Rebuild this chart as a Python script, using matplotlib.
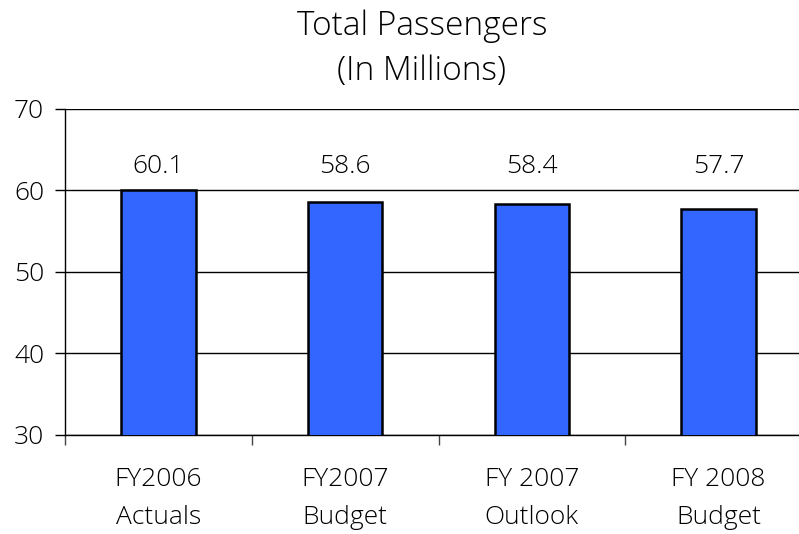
import matplotlib
matplotlib.use("Agg")
import matplotlib.pyplot as plt
import numpy as np

categories = ["FY2006\nActuals", "FY2007\nBudget", "FY 2007\nOutlook", "FY 2008\nBudget"]
passengers = [60.1, 58.6, 58.4, 57.7]
y_ticks = [30, 40, 50, 60, 70]

plt.rcParams["font.family"] = ["Open Sans", "DejaVu Sans"]
plt.rcParams["text.color"] = "black"
plt.rcParams["xtick.color"] = "black"
plt.rcParams["ytick.color"] = "black"

FS = 19
fig = plt.figure(figsize=(7.99, 5.34), dpi=100)
ax = fig.add_axes([65 / 799, (534 - 435) / 534, 747 / 799, (435 - 109) / 534])

x = np.arange(len(categories))
ax.bar(x, passengers, width=0.4, color="#3366FF", edgecolor="black",
       linewidth=1.8, zorder=3)

for xi, v in zip(x, passengers):
    ax.text(xi, 63.0, f"{v:.1f}", ha="center", va="center", fontsize=FS,
            fontweight="light", color="black")

ax.set_xlim(-0.5, len(categories) - 0.5)
ax.set_ylim(30, 70)
ax.set_yticks(y_ticks)
ax.set_yticklabels([str(t) for t in y_ticks], fontweight="light")
ax.yaxis.grid(True, color="black", linewidth=1.0, zorder=0)
ax.set_axisbelow(True)

ax.set_xticks(x)
ax.set_xticklabels(categories, fontsize=FS, fontweight="light", linespacing=1.7)
ax.set_xticks(np.arange(len(categories) + 1) - 0.5, minor=True)
ax.tick_params(axis="x", which="major", length=0, pad=23)
ax.tick_params(axis="x", which="minor", length=7, width=1.0, color="#444444")
ax.tick_params(axis="y", length=7, width=1.0, pad=8, labelsize=FS)

for s in ("top", "right"):
    ax.spines[s].set_visible(False)
ax.spines["left"].set_linewidth(1.0)
ax.spines["bottom"].set_linewidth(1.0)

fig.text(422 / 799, 1 - 49 / 534, "Total Passengers\n(In Millions)", ha="center",
         va="center", fontsize=24, fontweight="light", linespacing=1.45)

fig.savefig("out.png", dpi=100, facecolor="white")
